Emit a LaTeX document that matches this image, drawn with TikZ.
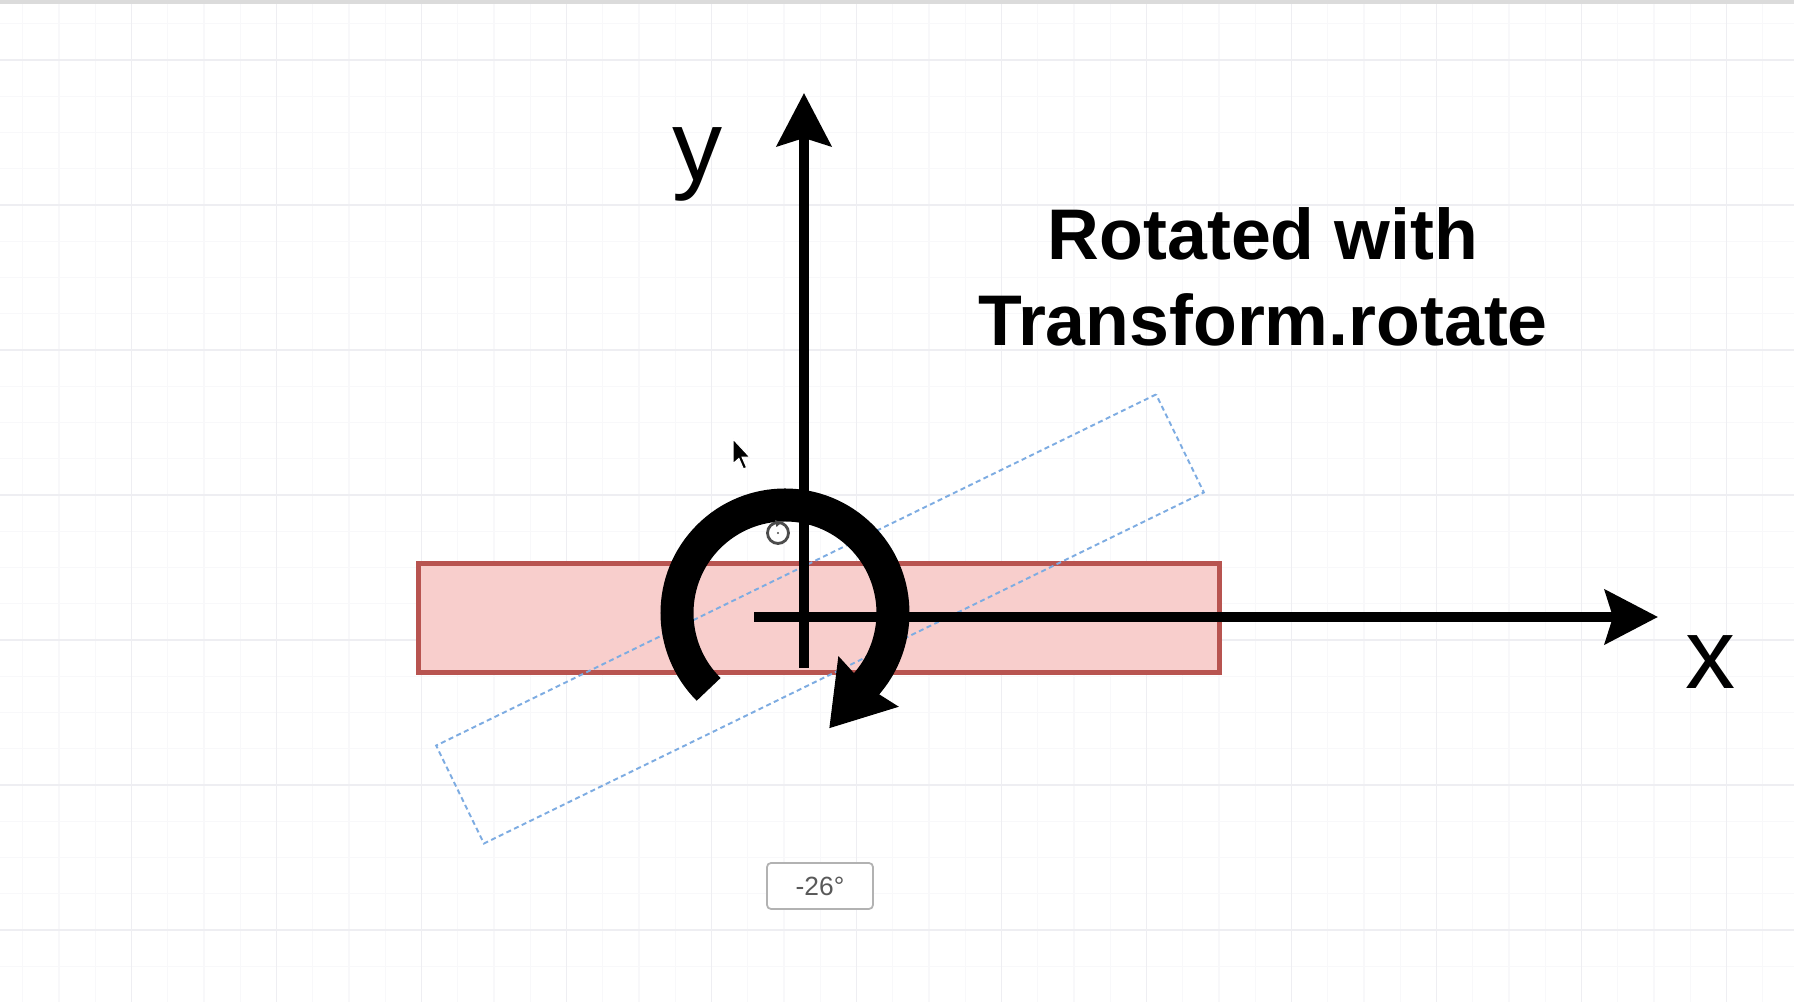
\documentclass[tikz,border=0pt]{standalone}
\usepackage{fontspec}
\setmainfont{Liberation Sans}
\usetikzlibrary{arrows.meta}
\definecolor{boxfill}{HTML}{F8CECC}
\definecolor{boxline}{HTML}{B85450}
\definecolor{ghostblue}{RGB}{125,172,226}
\definecolor{gridminor}{RGB}{248,248,250}
\definecolor{gridmajor}{RGB}{238,238,242}
\begin{document}
\begin{tikzpicture}[
    axis/.style={line width=0.1cm, -{Stealth[length=0.53cm, width=0.54cm, inset=0.08cm]}},
    ring/.style={line width=0.33cm, -{Stealth[length=0.6cm, width=0.75cm, inset=0.04cm]}},
    bar/.style={draw=boxline, fill=boxfill, line width=0.045cm, minimum width=8.01cm, minimum height=1.09cm, inner sep=0pt},
    ghost/.style={draw=ghostblue, dash pattern=on 0.05cm off 0.035cm, line width=0.55pt, minimum width=8.01cm, minimum height=1.09cm, inner sep=0pt},
    letter/.style={font=\fontsize{28.5}{30}\selectfont, inner sep=0pt},
    caption/.style={font=\bfseries\fontsize{20.4}{24.5}\selectfont, align=center, inner sep=0pt},
    tag/.style={draw=black!30, fill=white, rounded corners=0.04cm, line width=0.5pt, minimum width=1.06cm, minimum height=0.46cm, text=black!65, font=\fontsize{7.5}{9}\selectfont}
]
    \useasboundingbox (0,0) rectangle (17.94,10.02);
    \fill[white] (0,0) rectangle (17.94,10.02);
    \foreach \i in {-3,...,45}
        \draw[gridminor] ({1.315+0.3625*\i},0) -- ++(0,9.98);
    \foreach \j in {-1,...,25}
        \draw[gridminor] (0,{9.42-0.3625*\j}) -- ++(17.94,0);
    \foreach \i in {0,...,11}
        \draw[gridmajor] ({1.315+1.45*\i},0) -- ++(0,9.98);
    \foreach \j in {0,...,6}
        \draw[gridmajor] (0,{9.42-1.45*\j}) -- ++(17.94,0);
    \fill[black!14] (0,9.98) rectangle (17.94,10.02);

    \node[bar] (bar) at (8.19,3.84) {};
    \node[ghost, rotate=26] (ghost) at (8.20,3.83) {};

    \coordinate (ybase) at (8.04,3.34);
    \coordinate (ytip) at (8.04,9.09);
    \coordinate (xbase) at (7.54,3.85);
    \coordinate (xtip) at (16.58,3.85);
    \coordinate (pivot) at (7.85,3.89);
    \draw[axis] (ybase) -- (ytip);
    \draw[axis] (xbase) -- (xtip);
    \draw[ring] (pivot) ++(225:1.08) arc[start angle=225, end angle=-40, radius=1.08] -- ++(230:0.6);

    \draw[black!70, line width=0.8pt, fill=white] (7.78,4.69) circle (0.105);
    \fill[black!70] (7.75,4.82) -- (7.815,4.795) -- (7.765,4.75) -- cycle;
    \fill[black!70] (7.78,4.69) circle (0.012);
    \draw[white, line width=0.3pt, fill=black, shift={(7.33,5.63)}, scale=1.3] (0,0) -- ++(0,-0.19) -- ++(0.045,0.04) -- ++(0.035,-0.08) -- ++(0.025,0.01) -- ++(-0.035,0.08) -- ++(0.06,0) -- cycle;

    \node[letter] (ylabel) at (6.98,8.38) {y};
    \node[letter] (xlabel) at (17.11,3.40) {x};
    \node[caption] (title) at (12.63,7.25) {Rotated with\\Transform.rotate};
    \node[tag] (angle) at (8.20,1.16) {-26°};
\end{tikzpicture}
\end{document}
